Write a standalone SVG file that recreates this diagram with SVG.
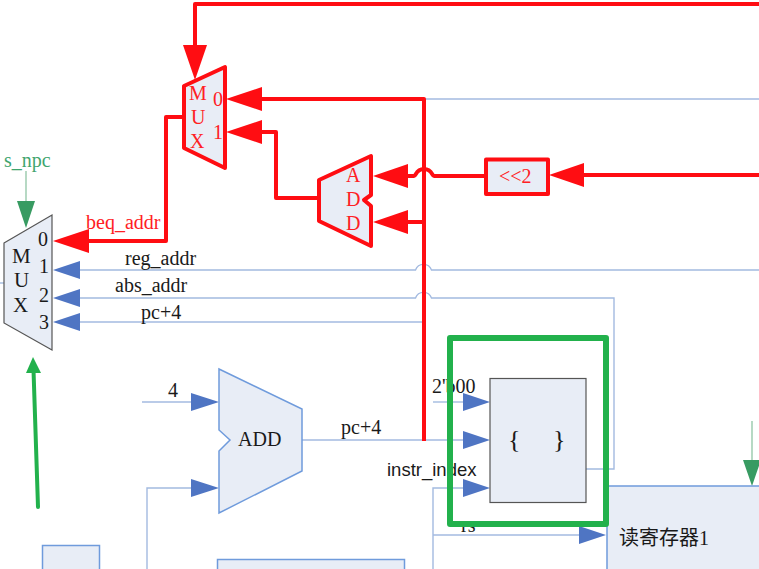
<svg xmlns="http://www.w3.org/2000/svg" width="759" height="569" viewBox="0 0 759 569">
<style>
text{font-family:"Liberation Serif","Noto Sans CJK SC",serif;font-size:20px;fill:#1a1a1a}
.blk{fill:#E8EDF6;stroke:#6F9BDC;stroke-width:1.5;stroke-linejoin:miter}
.gray{fill:#E8EDF6;stroke:#555;stroke-width:1.2}
.red{fill:#E8EDF6;stroke:#FF0D12;stroke-width:4;stroke-linejoin:round}
.w{fill:none;stroke:#A3BAE0;stroke-width:1.4}
.wr{fill:none;stroke:#FF0D12;stroke-width:4;stroke-linejoin:round}
.hb{fill:#4F75C3}
.hr{fill:#FF0D12}
.hg{fill:#389B62}
.rt{fill:#FF2024}
</style>
<g id="connectors">
<path class="w" d="M424 99H759"/>
<path class="w" d="M80 270H415.500a8.500 8.500 0 0 1 16 0H759"/>
<path class="w" d="M80 298H415.500a8.500 8.500 0 0 1 16 0H614V469H586"/>
<path class="w" d="M80 322H424"/>
<path class="w" d="M0 283H4"/>
<path class="w" d="M142 402H191"/>
<path class="w" d="M147 569V488H191"/>
<path class="w" d="M302 440H463"/>
<path class="w" d="M433 402H463"/>
<path class="w" d="M433 569V488H463"/>
<path class="w" d="M433 535H579"/>
<path d="M26 171V201M752 421V460" fill="none" stroke="#A5D0B6" stroke-width="1.6"/>
<path class="wr" d="M759 4H195V45"/>
<path class="wr" d="M424 441V99H262"/>
<path class="wr" d="M262 132H276V198H319"/>
<path class="wr" d="M184 117H166V241H88"/>
<path class="wr" d="M408 176H414c2 0 2-7 10-7s8 7 10 7H486"/>
<path class="wr" d="M408 222H424"/>
<path class="wr" d="M584 175H759"/>
<path class="hr" d="M195 80L183 45H207Z"/>
<path class="hr" d="M226 99L262 87V111Z"/>
<path class="hr" d="M226 132L262 120V144Z"/>
<path class="hr" d="M53 241L89 229V253Z"/>
<path class="hr" d="M373 176L408 164V188Z"/>
<path class="hr" d="M373 222L408 210V234Z"/>
<path class="hr" d="M549 175L584 163V187Z"/>
<path class="hb" d="M53 270L80 261V279Z"/>
<path class="hb" d="M53 298L80 289V307Z"/>
<path class="hb" d="M53 322L80 313V331Z"/>
<path class="hb" d="M219 402L191 393V411Z"/>
<path class="hb" d="M219 488L191 479V497Z"/>
<path class="hb" d="M490 402L463 393V411Z"/>
<path class="hb" d="M490 440L463 431V449Z"/>
<path class="hb" d="M490 488L463 479V497Z"/>
<path class="hb" d="M606 535L579 526V544Z"/>
<path class="hg" d="M26 228L17 201H35Z"/>
<path class="hg" d="M752 486L743 460H761Z"/>
</g>
<g id="mux-npc">
<path class="gray" d="M4 243L52 215V350L4 323Z"/>
<text x="12" y="263" style="font-size:21px">M</text>
<text x="14" y="287" style="font-size:21px">U</text>
<text x="13" y="312" style="font-size:21px">X</text>
<text x="38" y="246">0</text><text x="39" y="273">1</text><text x="39" y="302">2</text><text x="39" y="329">3</text>
</g>
<g id="mux-branch">
<path class="red" d="M184 86L225 67V168L184 148Z"/>
<text class="rt" x="189" y="100">M</text>
<text class="rt" x="191" y="124">U</text>
<text class="rt" x="190" y="148">X</text>
<text class="rt" x="213" y="106">0</text>
<text class="rt" x="213" y="139">1</text>
</g>
<g id="add-branch">
<path class="red" d="M319 180L371 156V195L364 200L371 206V246L319 221Z"/>
<text class="rt" x="346" y="182">A</text>
<text class="rt" x="346" y="206">D</text>
<text class="rt" x="346" y="230">D</text>
</g>
<g id="shift-left">
<rect class="red" x="486" y="159.500" width="62" height="34.500"/>
<text class="rt" x="499" y="183">&lt;&lt;2</text>
</g>
<g id="add-pc">
<path class="blk" d="M219 369L302 409V471L219 513V451L230 440L219 430Z"/>
<text x="238" y="446">ADD</text>
</g>
<g id="concat">
<rect class="gray" x="490" y="378.500" width="96" height="124"/>
<text x="508" y="448" style="font-size:26px">{</text>
<text x="553" y="448" style="font-size:26px">}</text>
</g>
<g id="regfile">
<rect class="blk" x="607" y="486" width="160" height="100"/>
<text x="619" y="545">读寄存器1</text>
</g>
<g id="block-left"><rect class="blk" x="42.500" y="545.500" width="57" height="40"/></g>
<g id="block-mid"><rect class="blk" x="217.500" y="559.500" width="187" height="30"/></g>
<g id="labels">
<text x="4" y="167" style="fill:#3FA56F">s_npc</text>
<text class="rt" x="86" y="229">beq_addr</text>
<text x="125" y="265">reg_addr</text>
<text x="115" y="292">abs_addr</text>
<text x="141" y="319">pc+4</text>
<text x="168" y="397">4</text>
<text x="341" y="434">pc+4</text>
<text x="432" y="393">2'b00</text>
<text x="387" y="476" style="font-family:'Liberation Sans',sans-serif;font-size:18.500px">instr_index</text>
<text x="461" y="532">rs</text>
</g>
<rect id="highlight" x="450" y="338" width="156" height="186" fill="none" stroke="#22B14C" stroke-width="6" stroke-linejoin="round"/>
<g id="pointer">
<path d="M38 507L33.500 370" fill="none" stroke="#22B14C" stroke-width="4" stroke-linecap="round"/>
<path d="M33 357L41 373H26Z" fill="#22B14C"/>
</g>
</svg>
